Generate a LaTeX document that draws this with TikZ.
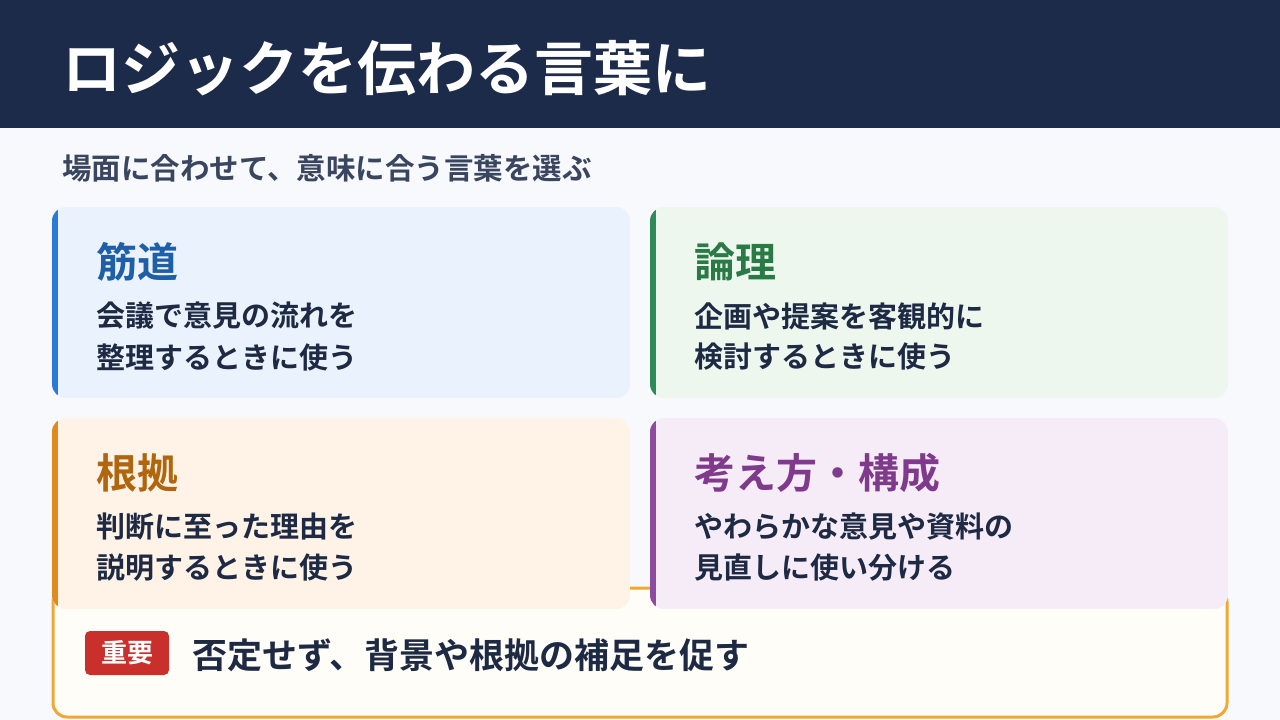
\documentclass[tikz,border=0pt]{standalone}
\usepackage{fontspec}
\setmainfont{Noto Sans CJK JP}[BoldFont={* Bold}]
\usetikzlibrary{calc}
\definecolor{navy}{HTML}{1C2B4A}
\definecolor{pagebg}{HTML}{F7F9FC}
\definecolor{ink}{HTML}{1E2A44}
\definecolor{subink}{HTML}{3A4660}
\definecolor{blueacc}{HTML}{2B7BD6}\definecolor{bluebg}{HTML}{EAF2FD}\definecolor{bluetx}{HTML}{1F5FA8}
\definecolor{greenacc}{HTML}{2E8B57}\definecolor{greenbg}{HTML}{EDF7EE}\definecolor{greentx}{HTML}{2A7A45}
\definecolor{orangeacc}{HTML}{E08A1E}\definecolor{orangebg}{HTML}{FEF3E6}\definecolor{orangetx}{HTML}{B0650F}
\definecolor{purpleacc}{HTML}{8E4A9E}\definecolor{purplebg}{HTML}{F6ECF8}\definecolor{purpletx}{HTML}{7F3A8C}
\definecolor{noteline}{HTML}{F0A830}\definecolor{notebg}{HTML}{FFFDF8}
\definecolor{badge}{HTML}{C9302C}

\newcommand{\card}[6]{% x, y, accent, bg, title colour, name
  \begin{scope}
    \clip[rounded corners=14] (#1,#2) rectangle ++(578,191);
    \fill[#4] (#1,#2) rectangle ++(578,191);
    \fill[#3] (#1,#2) rectangle ++(6,191);
  \end{scope}
  \coordinate (#6) at (#1+44,#2);
}

\begin{document}
\begin{tikzpicture}[x=1pt, y=-1pt,
    cardtitle/.style={anchor=west, inner sep=0, font=\bfseries\fontsize{41}{48}\selectfont},
    bodyline/.style={anchor=west, inner sep=0, text=ink, font=\bfseries\fontsize{29}{34}\selectfont}]
  \useasboundingbox (0,0) rectangle (1280,720);
  \fill[pagebg] (0,0) rectangle (1280,720);
  \fill[navy] (0,0) rectangle (1280,128);
  \node[anchor=west, inner sep=0, text=white, font=\bfseries\fontsize{59}{66}\selectfont] (title) at (62,68) {ロジックを伝わる言葉に};
  \node[anchor=west, inner sep=0, text=subink, font=\bfseries\fontsize{29.5}{34}\selectfont] (subtitle) at (62,168) {場面に合わせて、意味に合う言葉を選ぶ};

  % note box behind the cards
  \draw[noteline, line width=3, fill=notebg, rounded corners=14] (53,588) rectangle (1227,717);
  \node[fill=badge, text=white, rounded corners=5, minimum width=84, minimum height=44,
    font=\bfseries\fontsize{26}{30}\selectfont] (badge) at (127,653) {重要};
  \node[anchor=west, inner sep=0, text=ink, font=\bfseries\fontsize{35}{40}\selectfont] (note) at (192,655) {否定せず、背景や根拠の補足を促す};

  % cards
  \card{52}{207}{blueacc}{bluebg}{bluetx}{c1}
  \card{650}{207}{greenacc}{greenbg}{greentx}{c2}
  \card{52}{418}{orangeacc}{orangebg}{orangetx}{c3}
  \card{650}{418}{purpleacc}{purplebg}{purpletx}{c4}

  \node[cardtitle, text=bluetx] (t1) at ($(c1)+(0,55)$) {筋道};
  \node[bodyline] (b1a) at ($(c1)+(0,109)$) {会議で意見の流れを};
  \node[bodyline] (b1b) at ($(c1)+(0,150)$) {整理するときに使う};
  \node[cardtitle, text=greentx] (t2) at ($(c2)+(0,55)$) {論理};
  \node[bodyline] (b2a) at ($(c2)+(0,109)$) {企画や提案を客観的に};
  \node[bodyline] (b2b) at ($(c2)+(0,150)$) {検討するときに使う};
  \node[cardtitle, text=orangetx] (t3) at ($(c3)+(0,55)$) {根拠};
  \node[bodyline] (b3a) at ($(c3)+(0,109)$) {判断に至った理由を};
  \node[bodyline] (b3b) at ($(c3)+(0,150)$) {説明するときに使う};
  \node[cardtitle, text=purpletx] (t4) at ($(c4)+(0,55)$) {考え方・構成};
  \node[bodyline] (b4a) at ($(c4)+(0,109)$) {やわらかな意見や資料の};
  \node[bodyline] (b4b) at ($(c4)+(0,150)$) {見直しに使い分ける};
\end{tikzpicture}
\end{document}
